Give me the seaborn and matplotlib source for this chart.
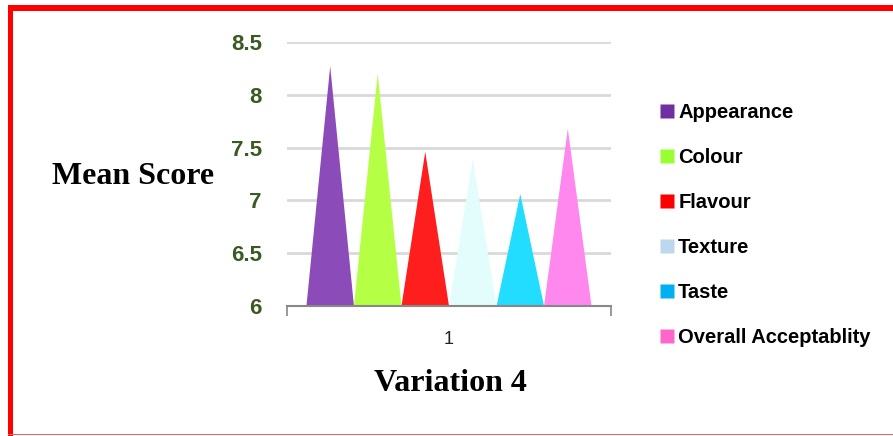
import matplotlib
matplotlib.use("Agg")
import matplotlib.pyplot as plt
import seaborn as sns
import pandas as pd
from matplotlib.patches import Polygon, Rectangle
from matplotlib.lines import Line2D

# ---- data ----
attributes = ["Appearance", "Colour", "Flavour", "Texture", "Taste", "Overall Acceptablity"]
scores = [8.27, 8.2, 7.46, 7.39, 7.06, 7.68]
variation = ["1", "1", "1", "1", "1", "1"]
yticks = [6, 6.5, 7, 7.5, 8, 8.5]
ytick_labels = ["6", "6.5", "7", "7.5", "8", "8.5"]

fill_colors = ["#8B4BB8", "#B5FF45", "#FF1E1E", "#E3FCFC", "#22DDFF", "#FF88EE"]
legend_colors = ["#7030A0", "#99FF33", "#FF0000", "#BDD7EE", "#00B0F0", "#FF66CC"]

df = pd.DataFrame({"variation": variation, "attribute": attributes, "score": scores})

sns.set_style("white")
SANS = "Liberation Sans"
fig = plt.figure(figsize=(8.93, 4.36), dpi=100)
ax = fig.add_axes([287/893, 1-306/436, (611-287)/893, (306-42)/436])

sns.barplot(data=df, x="variation", y="score", hue="attribute",
            hue_order=attributes, palette=fill_colors, width=0.88, gap=0,
            ax=ax, legend=False, saturation=1)

ymin = 6
bars = [p for p in ax.patches if isinstance(p, Rectangle)]
for p in bars:
    x0 = p.get_x(); w = p.get_width(); h = p.get_height()
    tri = Polygon([(x0, ymin), (x0 + w/2, h), (x0 + w, ymin)], closed=True,
                  facecolor=p.get_facecolor(), edgecolor="none", zorder=3)
    ax.add_patch(tri)
    p.remove()

ax.set_ylim(6, 8.5)
ax.set_xlim(-0.5, 0.5)
ax.set_yticks(yticks)
ax.set_yticklabels(ytick_labels)
for lab in ax.get_yticklabels():
    lab.set_fontfamily(SANS)
    lab.set_fontweight("bold")
    lab.set_fontsize(16)
    lab.set_color("#3A5A24")
ax.tick_params(axis="y", length=0, pad=18)
ax.yaxis.grid(True, color="#D9D9D9", linewidth=2)
ax.set_axisbelow(True)

ax.set_xticks([0])
ax.set_xticklabels(["1"], fontfamily=SANS, fontsize=13, color="#222222")
ax.set_xticks([-0.5, 0.5], minor=True)
ax.tick_params(axis="x", which="major", length=0, pad=18)
ax.tick_params(axis="x", which="minor", bottom=True, length=7, width=1.2,
               color="#888888", direction="out")

for s in ["left", "right", "top"]:
    ax.spines[s].set_visible(False)
ax.spines["bottom"].set_color("#888888")
ax.spines["bottom"].set_linewidth(1.5)
ax.spines["bottom"].set_zorder(5)

ax.set_xlabel("")
ax.set_ylabel("")
fig.text(133/893, 1-177/436, "Mean Score", fontfamily="Liberation Serif",
         fontweight="bold", fontsize=23, ha="center", va="center", color="black")
fig.text(450/893, 1-383/436, "Variation 4", fontfamily="Liberation Serif",
         fontweight="bold", fontsize=23, ha="center", va="center", color="black")

handles = [Line2D([0], [0], marker="s", linestyle="none", markersize=9.5,
                  markerfacecolor=c, markeredgecolor="none") for c in legend_colors]
leg = fig.legend(handles, attributes, loc="upper left",
                 bbox_to_anchor=(650/893, 1-95/436), frameon=False,
                 prop={"family": SANS, "weight": "bold", "size": 14.5},
                 labelspacing=1.29, handletextpad=0.1, handlelength=0.9,
                 borderaxespad=0)
for t in leg.get_texts():
    t.set_color("black")

# red border
fig.patches.append(Rectangle((8/893, 0), 5/893, 1-5/436, transform=fig.transFigure,
                             facecolor="#FF0000", edgecolor="none", figure=fig))
fig.patches.append(Rectangle((8/893, 1-11/436), 1, 6/436, transform=fig.transFigure,
                             facecolor="#FF0000", edgecolor="none", figure=fig))
fig.patches.append(Rectangle((8/893, 1/436), 1, 1.5/436, transform=fig.transFigure,
                             facecolor="#F06060", edgecolor="none", figure=fig))

fig.savefig("out.png", dpi=100)
